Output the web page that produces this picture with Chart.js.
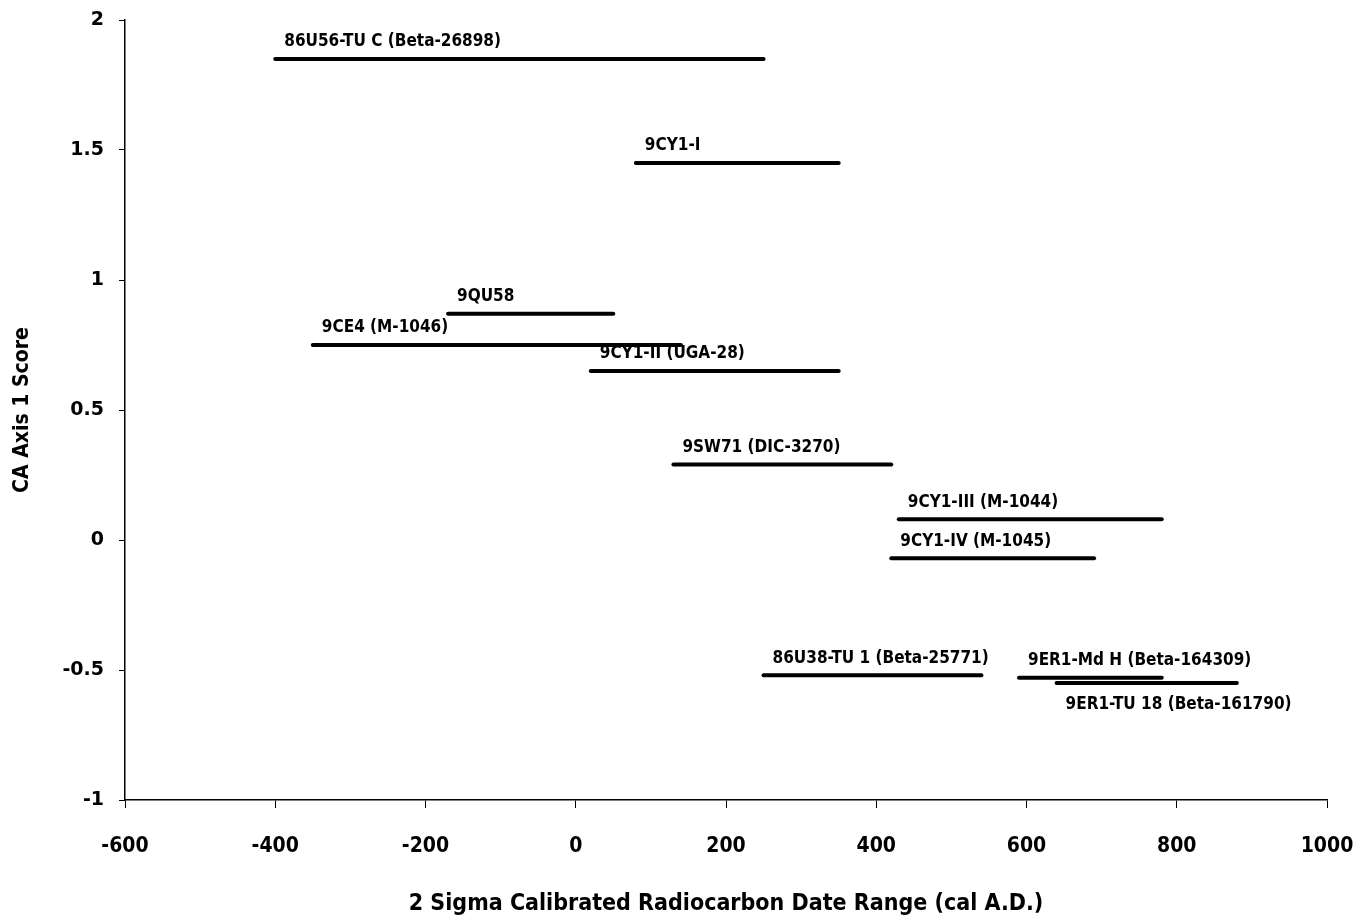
<!DOCTYPE html>
<html>
<head>
<meta charset="utf-8">
<script src="https://cdn.jsdelivr.net/npm/chart.js@4/dist/chart.umd.min.js"></script>
<style>
  html, body { margin: 0; padding: 0; background: #fff; }
  #wrap { width: 1360px; height: 920px; }
</style>
</head>
<body>
<div id="wrap"><canvas id="chart" width="1360" height="920"></canvas></div>
<script>
// sample labels, date ranges (cal A.D.) and CA axis 1 scores
const samples = [
    '86U56-TU C (Beta-26898)',
    '9CY1-I',
    '9QU58',
    '9CE4 (M-1046)',
    '9CY1-II (UGA-28)',
    '9SW71 (DIC-3270)',
    '9CY1-III (M-1044)',
    '9CY1-IV (M-1045)',
    '86U38-TU 1 (Beta-25771)',
    '9ER1-Md H (Beta-164309)',
    '9ER1-TU 18 (Beta-161790)'
];
const dateFrom = [-400, 80, -170, -350, 20, 130, 430, 420, 250, 590, 640];
const dateTo   = [250, 350, 50, 140, 350, 420, 780, 690, 540, 780, 880];
const caScore  = [1.85, 1.45, 0.87, 0.75, 0.65, 0.29, 0.08, -0.07, -0.52, -0.53, -0.55];
// label goes above the line, except the last one which sits below
const labelBelow = [false, false, false, false, false, false, false, false, false, false, true];

const xTicks = [-600, -400, -200, 0, 200, 400, 600, 800, 1000];
const yTicks = [-1, -0.5, 0, 0.5, 1, 1.5, 2];

const condensed = "'DejaVu Sans Condensed', 'Liberation Sans Narrow', 'Roboto Condensed', Roboto, sans-serif";

const datasets = samples.map((name, i) => ({
    label: name,
    data: [{x: dateFrom[i], y: caScore[i]}, {x: dateTo[i], y: caScore[i]}],
    showLine: true,
    borderColor: '#000',
    borderWidth: 4,
    borderCapStyle: 'round',
    pointRadius: 0,
    fill: false
}));

// writes the sample name next to the start of each line
const lineLabels = {
    id: 'lineLabels',
    afterDatasetsDraw(chart) {
        const ctx = chart.ctx;
        const xs = chart.scales.x, ys = chart.scales.y;
        ctx.save();
        ctx.fillStyle = '#000';
        ctx.font = "bold 17px " + condensed;
        ctx.textAlign = 'left';
        ctx.textBaseline = 'middle';
        samples.forEach((name, i) => {
            const px = xs.getPixelForValue(dateFrom[i]) + 9;
            const py = ys.getPixelForValue(caScore[i]) + (labelBelow[i] ? 22 : -17);
            ctx.fillText(name, px, py);
        });
        ctx.restore();
    }
};

new Chart(document.getElementById('chart'), {
    type: 'scatter',
    data: { datasets: datasets },
    plugins: [lineLabels],
    options: {
        responsive: false,
        animation: false,
        layout: { padding: { top: 20, right: 33, left: 0, bottom: 0 } },
        plugins: { legend: { display: false }, tooltip: { enabled: false } },
        scales: {
            x: {
                type: 'linear',
                min: -600, max: 1000,
                afterBuildTicks: s => { s.ticks = xTicks.map(v => ({value: v})); },
                afterFit: s => { s.height = 120; s.paddingLeft = 0; s.paddingRight = 0; },
                border: { display: true, color: '#000', width: 1.5 },
                grid: { drawOnChartArea: false, color: '#000', tickLength: 8 },
                ticks: {
                    color: '#000', padding: 26,
                    callback: v => String(v),
                    font: { family: condensed, size: 21, weight: 'bold' }
                },
                title: {
                    display: true,
                    text: '2 Sigma Calibrated Radiocarbon Date Range (cal A.D.)',
                    color: '#000',
                    font: { family: condensed, size: 23, weight: 'bold' },
                    padding: { top: 0, bottom: 2 }
                }
            },
            y: {
                type: 'linear',
                min: -1, max: 2,
                afterBuildTicks: s => { s.ticks = yTicks.map(v => ({value: v})); },
                afterFit: s => { s.width = 125; s.paddingTop = 0; s.paddingBottom = 0; },
                border: { display: true, color: '#000', width: 1.5 },
                grid: { drawOnChartArea: false, color: '#000', tickLength: 6 },
                ticks: {
                    color: '#000', padding: 15,
                    callback: v => String(v),
                    font: { family: "'DejaVu Sans', Verdana, sans-serif", size: 19, weight: 'bold' }
                },
                title: {
                    display: true,
                    text: 'CA Axis 1 Score',
                    color: '#000',
                    font: { family: condensed, size: 21, weight: 'bold' },
                    padding: { top: 10, bottom: 0 }
                }
            }
        }
    }
});
</script>
</body>
</html>
